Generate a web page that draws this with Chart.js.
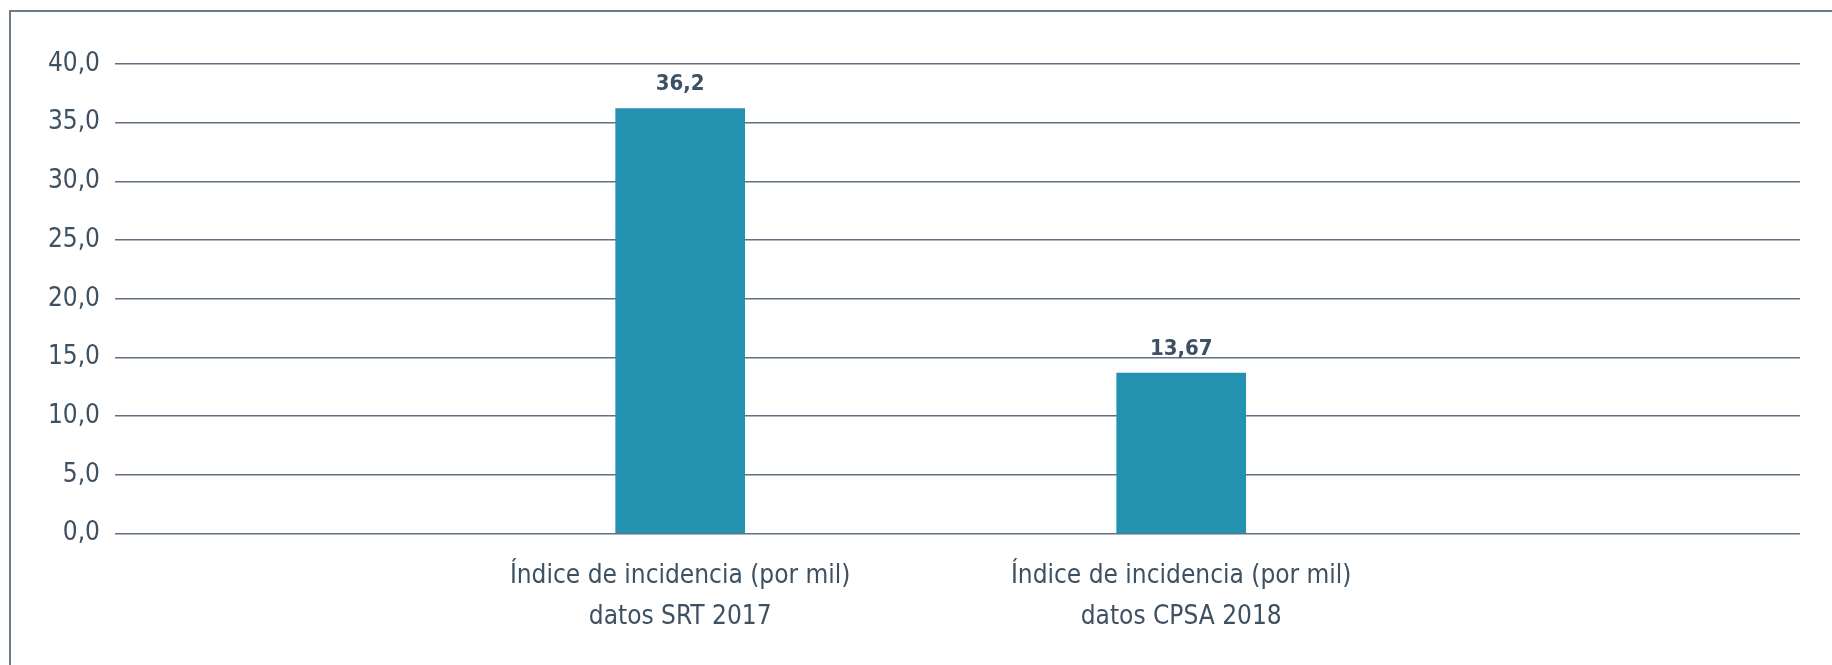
<!DOCTYPE html>
<html>
<head>
<meta charset="utf-8">
<script src="https://cdn.jsdelivr.net/npm/chart.js@4"></script>
<style>
  html, body { margin: 0; padding: 0; background: #fff; }
  #wrap { position: relative; width: 1832px; height: 665px; overflow: hidden; }
  #frame {
    position: absolute; left: 9px; top: 10px; right: -10px; bottom: -10px;
    border-top: 2px solid #6a7b8a; border-left: 2px solid #6a7b8a;
  }
  canvas { position: absolute; left: 0; top: 0; }
</style>
</head>
<body>
<div id="wrap">
  <div id="frame"></div>
  <canvas id="chart" width="1832" height="665"></canvas>
</div>
<script>
// categories (two lines each) and values
const categories = [
  ["Índice de incidencia (por mil)", "datos SRT 2017"],
  ["Índice de incidencia (por mil)", "datos CPSA 2018"]
];
const values = [36.2, 13.67];
const yTicks = [0, 5, 10, 15, 20, 25, 30, 35, 40];

// no narrow font installed, so a condensed one at a smaller size
const FONT = "'DejaVu Sans Condensed', 'Liberation Sans Narrow', sans-serif";
const TEXT = "#3d5163";
const BAR = "#2391b0";
const GRID = "#5f7182";

// format numbers with a decimal comma, like the original
function fmt(v, digits) {
  return v.toFixed(digits).replace(".", ",");
}

// draws the value above each bar
const valueLabels = {
  id: "valueLabels",
  afterDatasetsDraw(chart) {
    const ctx = chart.ctx;
    const meta = chart.getDatasetMeta(0);
    ctx.save();
    ctx.font = "bold 22px " + FONT;
    ctx.fillStyle = TEXT;
    ctx.textAlign = "center";
    ctx.textBaseline = "middle";
    meta.data.forEach((bar, i) => {
      const txt = String(values[i]).replace(".", ",");
      ctx.fillText(txt, bar.x, bar.y - 24);
    });
    ctx.restore();
  }
};

const ctx = document.getElementById("chart").getContext("2d");
new Chart(ctx, {
  type: "bar",
  data: {
    datasets: [{
      data: values.map((v, i) => ({ x: i, y: v })),
      backgroundColor: BAR,
      borderWidth: 0,
      barThickness: 129
    }]
  },
  options: {
    responsive: false,
    animation: false,
    layout: { padding: { left: 0, right: 32, top: 64, bottom: 0 } },
    plugins: {
      legend: { display: false },
      tooltip: { enabled: false }
    },
    scales: {
      x: {
        type: "linear",
        offset: false,
        min: -1.128,
        max: 2.235,
        grid: { display: false, drawTicks: false },
        border: { display: false },
        afterBuildTicks: scale => {
          scale.ticks = categories.map((_, i) => ({ value: i }));
        },
        afterFit: scale => { scale.height = 131.5; },
        ticks: {
          autoSkip: false,
          maxRotation: 0,
          padding: 22,
          color: TEXT,
          font: { family: FONT, size: 26, lineHeight: 41 / 26 },
          callback: v => categories[v]
        }
      },
      y: {
        min: 0,
        max: 40,
        afterBuildTicks: scale => {
          scale.ticks = yTicks.map(v => ({ value: v }));
        },
        afterFit: scale => { scale.width = 115; },
        grid: { color: GRID, lineWidth: 1.5, drawTicks: false },
        border: { display: false },
        ticks: {
          padding: 15,
          color: TEXT,
          font: { family: FONT, size: 26 },
          callback: v => fmt(v, 1)
        }
      }
    }
  },
  plugins: [valueLabels]
});
</script>
</body>
</html>
